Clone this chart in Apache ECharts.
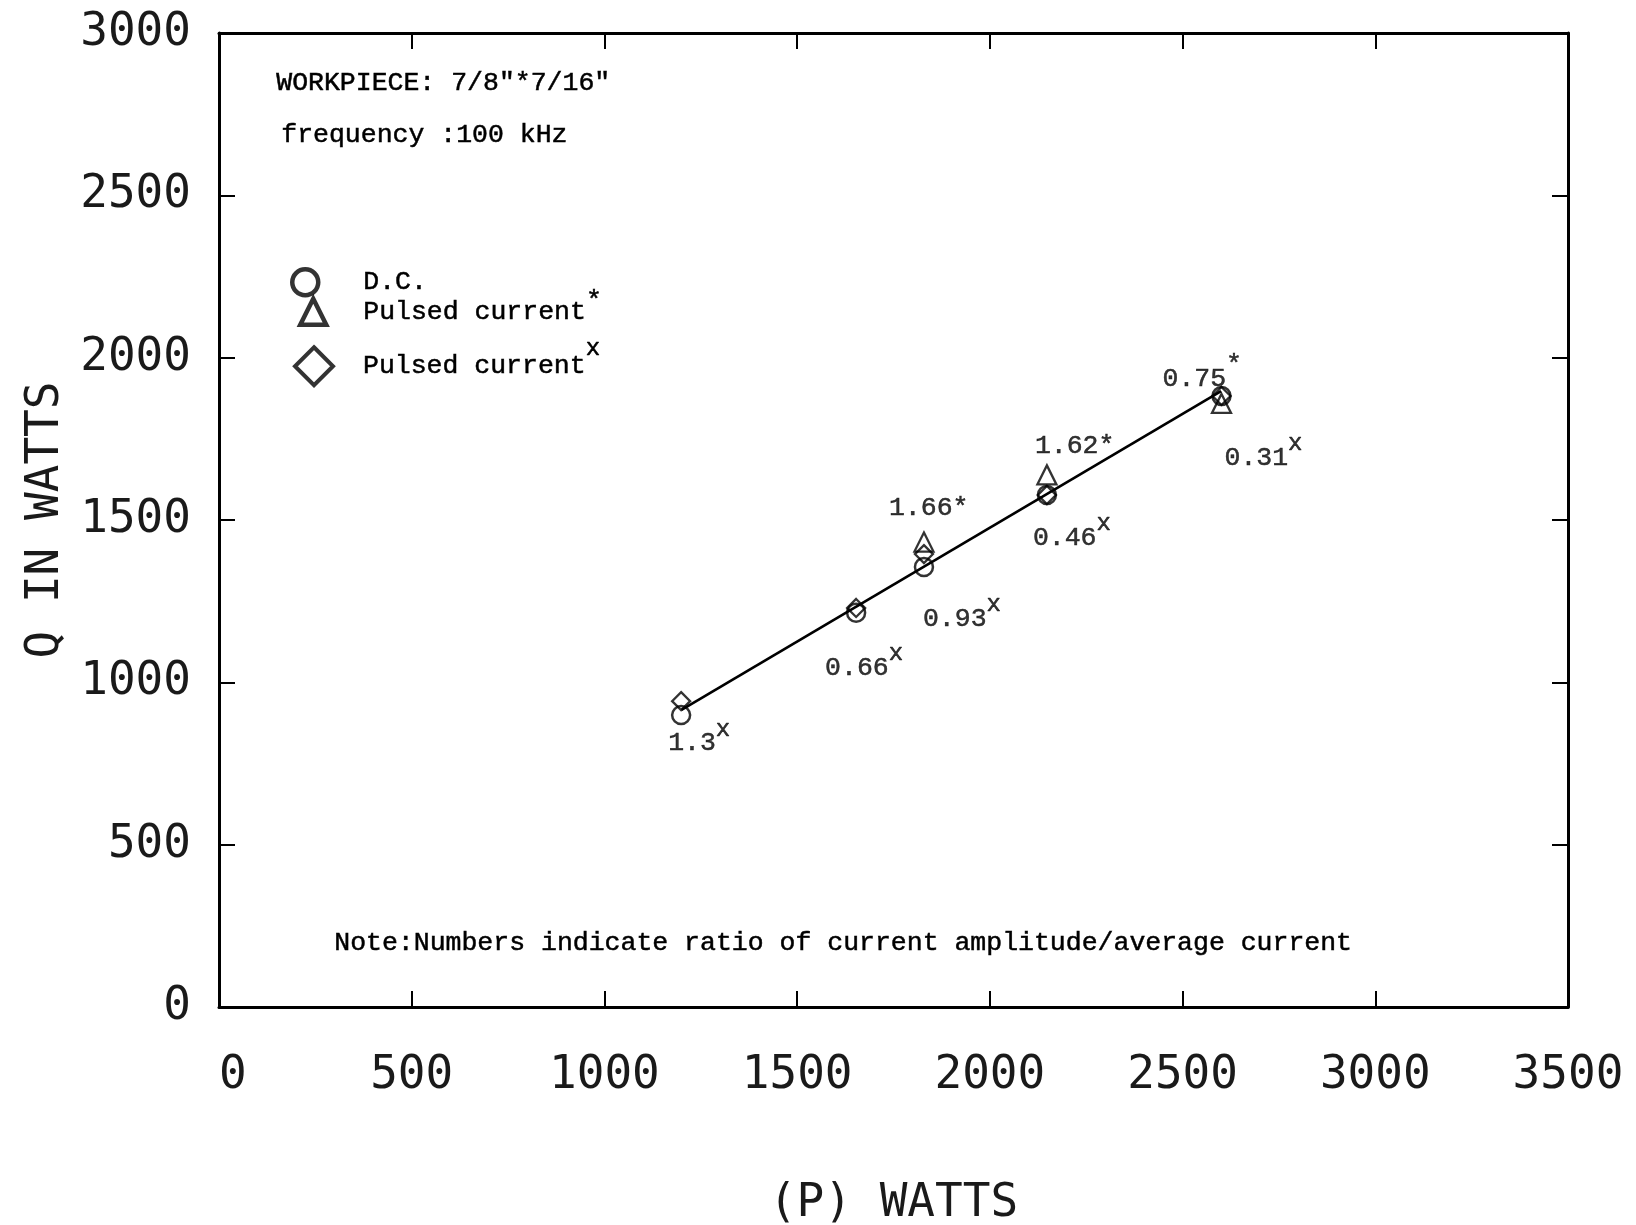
<!DOCTYPE html>
<html>
<head>
<meta charset="utf-8">
<script src="https://cdn.jsdelivr.net/npm/echarts@6/dist/echarts.min.js"></script>
<style>
  html, body { margin: 0; padding: 0; background: #fff; }
  #chart { width: 1636px; height: 1225px; }
</style>
</head>
<body>
<div id="chart"></div>
<script>
// Heat input Q versus power P, 7/8" x 7/16" workpiece at 100 kHz.

// Axis ranges (watts)
const xMax = 3500;
const yMax = 3000;
const tickStep = 500;

// D.C. heating
const dcPower = [1199, 1653, 1829, 2148, 2601];
const dcQ = [899, 1214, 1355, 1577, 1882];

// Pulsed current (*)
const starPower = [1829, 2148, 2601];
const starQ = [1432, 1639, 1859];
const starRatio = ['1.66', '1.62', '0.75'];

// Pulsed current (x)
const crossPower = [1199, 1653, 1829, 2148, 2601];
const crossQ = [942, 1229, 1395, 1577, 1882];
const crossRatio = ['1.3', '0.66', '0.93', '0.46', '0.31'];

// Fitted straight line
const fitPower = [1200, 2600];
const fitQ = [915, 1897];

// Where each ratio label sits relative to its marker (px)
const starLabelOffset = [[-35, -34], [-12, -29], [-59, -24]];
const starRaised = [false, false, true];
const crossLabelOffset = [[-13, 42], [-31, 60], [-1, 65], [-14, 43], [3, 62]];

const MONO = '"Liberation Mono", "DejaVu Sans Mono", monospace';
const PLOT = '"DejaVu Sans Mono", monospace';
const INK = '#000000';
const TXT = { color: INK, textBorderColor: INK, textBorderWidth: 0.5 };

function mono(size, extra) {
  return Object.assign({ fontFamily: MONO, fontSize: size }, TXT, extra || {});
}

const labelRich = {
  n: mono(26.5),
  sx: mono(24, { padding: [0, 0, 28, 0] }),
  ss: mono(26.5, { padding: [0, 0, 28, 0] })
};

function pairs(xs, ys) { return xs.map((x, i) => [x, ys[i]]); }

const starData = pairs(starPower, starQ).map((v, i) => ({
  value: v,
  label: {
    offset: starLabelOffset[i],
    formatter: starRaised[i] ? '{n|' + starRatio[i] + '}{ss|*}' : '{n|' + starRatio[i] + '*}'
  }
}));

const crossData = pairs(crossPower, crossQ).map((v, i) => ({
  value: v,
  label: {
    offset: crossLabelOffset[i],
    formatter: '{n|' + crossRatio[i] + '}{sx|x}'
  }
}));

const pointLabel = {
  show: true,
  position: 'inside',
  align: 'left',
  verticalAlign: 'middle',
  rich: labelRich
};

const hollow = (w) => ({ color: 'rgba(0,0,0,0)', borderColor: INK, borderWidth: w });

// Legend text: item text starts 5px after the icon box, pushed right by `gap`
function legendText(gap) {
  return {
    fontFamily: MONO, fontSize: 26.5, color: INK,
    rich: {
      t: mono(26.5, { padding: [0, 0, 0, gap] }),
      s1: mono(26.5, { padding: [0, 0, 22, 0] }),
      s2: mono(24, { padding: [0, 0, 36, 0] })
    }
  };
}
const legendFormat = (name) => {
  if (name === 'Pulsed current *') return '{t|Pulsed current}{s1|*}';
  if (name === 'Pulsed current x') return '{t|Pulsed current}{s2|x}';
  return '{t|' + name + '}';
};
const legendBase = { orient: 'vertical', padding: 0, selectedMode: false, formatter: legendFormat };

const axisLineStyle = { show: true, onZero: false, lineStyle: { color: INK, width: 3 } };
const tickStyle = { show: true, inside: true, length: 16, lineStyle: { color: INK, width: 2 } };
const plotFont = { fontFamily: PLOT, fontSize: 46, color: '#1a1a1a' };
const plainNumber = (v) => String(v);

const chart = echarts.init(document.getElementById('chart'), null, { renderer: 'canvas' });

chart.setOption({
  animation: false,
  backgroundColor: '#ffffff',
  grid: { left: 219, right: 68, top: 33, bottom: 218, show: false, containLabel: false, outerBoundsMode: 'none' },
  xAxis: [
    {
      type: 'value', min: 0, max: xMax, interval: tickStep, position: 'bottom',
      axisLine: axisLineStyle, axisTick: tickStyle, splitLine: { show: false },
      axisLabel: Object.assign({ margin: 46, alignMinLabel: 'left', formatter: plainNumber }, plotFont),
      name: '(P) WATTS', nameLocation: 'middle', nameGap: 174,
      nameTextStyle: plotFont
    },
    {
      type: 'value', min: 0, max: xMax, interval: tickStep, position: 'top',
      axisLine: axisLineStyle, axisTick: tickStyle, splitLine: { show: false },
      axisLabel: { show: false }
    }
  ],
  yAxis: [
    {
      type: 'value', min: 0, max: yMax, interval: tickStep, position: 'left',
      axisLine: axisLineStyle, axisTick: tickStyle, splitLine: { show: false },
      axisLabel: Object.assign({ margin: 28, formatter: plainNumber }, plotFont),
      name: 'Q IN WATTS', nameLocation: 'middle', nameGap: 146, nameRotate: 90,
      nameTextStyle: plotFont
    },
    {
      type: 'value', min: 0, max: yMax, interval: tickStep, position: 'right',
      axisLine: axisLineStyle, axisTick: tickStyle, splitLine: { show: false },
      axisLabel: { show: false }
    }
  ],
  legend: [
    Object.assign({}, legendBase, {
      data: ['D.C.'], left: 290, top: 267, icon: 'circle',
      itemWidth: 26, itemHeight: 26,
      itemStyle: hollow(4.5), textStyle: legendText(40)
    }),
    Object.assign({}, legendBase, {
      data: ['Pulsed current *'], left: 298, top: 287, icon: 'triangle',
      itemWidth: 26, itemHeight: 26,
      itemStyle: hollow(4.5), textStyle: legendText(32)
    }),
    Object.assign({}, legendBase, {
      data: ['Pulsed current x'], left: 293, top: 336, icon: 'diamond',
      itemWidth: 38, itemHeight: 38,
      itemStyle: hollow(4), textStyle: legendText(25)
    })
  ],
  graphic: [
    { type: 'text', left: 276, top: 69, style: { text: 'WORKPIECE: 7/8"*7/16"', font: '26.5px ' + MONO, fill: INK, stroke: INK, lineWidth: 0.5 } },
    { type: 'text', left: 281, top: 121, style: { text: 'frequency :100 kHz', font: '26.5px ' + MONO, fill: INK, stroke: INK, lineWidth: 0.5 } },
    { type: 'text', left: 334, top: 929, style: { text: 'Note:Numbers indicate ratio of current amplitude/average current', font: '26.5px ' + MONO, fill: INK, stroke: INK, lineWidth: 0.5 } }
  ],
  series: [
    {
      name: 'fit', type: 'line', data: pairs(fitPower, fitQ),
      symbol: 'none', lineStyle: { color: INK, width: 2.6 }, z: 2, silent: true
    },
    {
      name: 'D.C.', type: 'scatter', data: pairs(dcPower, dcQ),
      symbol: 'circle', symbolSize: 18, itemStyle: hollow(2.5), z: 3
    },
    {
      name: 'Pulsed current *', type: 'scatter', data: starData,
      symbol: 'triangle', symbolSize: 19, itemStyle: hollow(2.3), label: pointLabel, z: 3
    },
    {
      name: 'Pulsed current x', type: 'scatter', data: crossData,
      symbol: 'diamond', symbolSize: 18, itemStyle: hollow(2.3), label: pointLabel, z: 3
    }
  ]
});
</script>
</body>
</html>
